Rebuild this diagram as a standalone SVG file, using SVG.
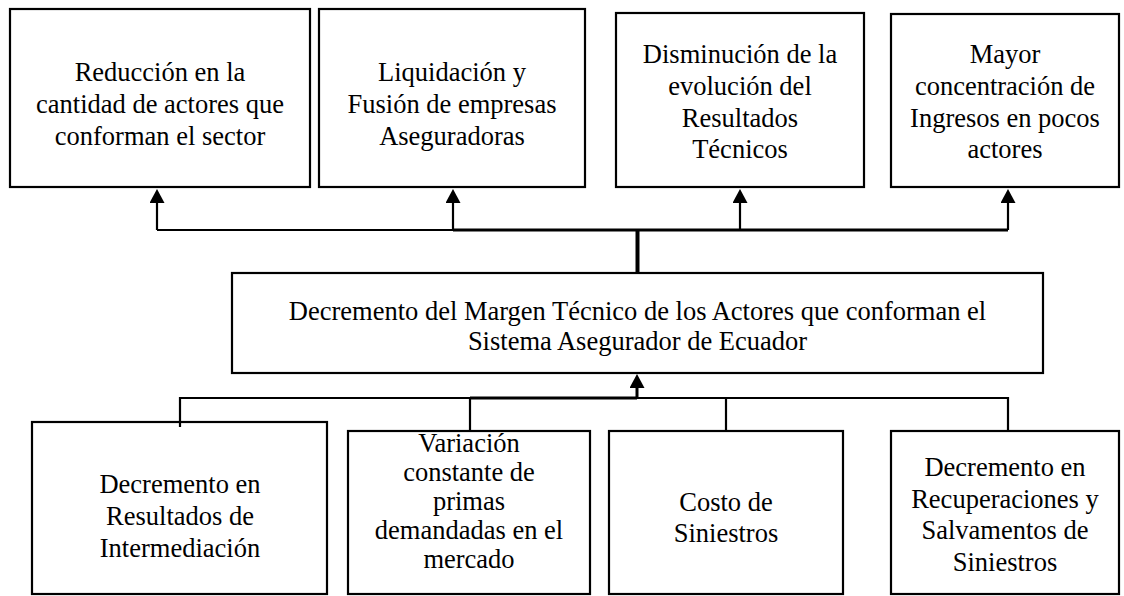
<svg xmlns="http://www.w3.org/2000/svg" width="1124" height="596" viewBox="0 0 1124 596">
<style>
.box{fill:#fff;stroke:#000;stroke-width:2.2}
.t{font-family:"Liberation Serif","Times New Roman",serif;font-size:26.5px;fill:#000;text-anchor:middle}
.c{fill:none;stroke:#000;stroke-width:2.2}
.ct{fill:none;stroke:#000;stroke-width:3}
</style>
<defs>
<marker id="ah" markerUnits="userSpaceOnUse" viewBox="0 0 14 15" markerWidth="14" markerHeight="15" refX="0" refY="7.5" orient="auto">
<path d="M0,0 L14,7.5 L0,15 Z" fill="#000"/>
</marker>
</defs>
<rect width="1124" height="596" fill="#fff"/>
<g id="n1"><rect class="box" x="10" y="9" width="300" height="178"/>
<text class="t" x="160" y="81">Reducción en la</text><text class="t" x="160" y="113">cantidad de actores que</text><text class="t" x="160" y="145">conforman el sector</text></g>
<g id="n2"><rect class="box" x="319" y="9" width="266" height="178"/>
<text class="t" x="452" y="81">Liquidación y</text><text class="t" x="452" y="113">Fusión de empresas</text><text class="t" x="452" y="145">Aseguradoras</text></g>
<g id="n3"><rect class="box" x="616" y="13" width="248" height="174"/>
<text class="t" x="740" y="63">Disminución de la</text><text class="t" x="740" y="95">evolución del</text><text class="t" x="740" y="127">Resultados</text><text class="t" x="740" y="158">Técnicos</text></g>
<g id="n4"><rect class="box" x="891" y="14" width="228" height="173"/>
<text class="t" x="1005" y="63">Mayor</text><text class="t" x="1005" y="95">concentración de</text><text class="t" x="1005" y="127">Ingresos en pocos</text><text class="t" x="1005" y="158">actores</text></g>
<g id="n5"><rect class="box" x="232" y="273" width="811" height="100"/>
<text class="t" x="637.5" y="320">Decremento del Margen Técnico de los Actores que conforman el</text><text class="t" x="637.5" y="350">Sistema Asegurador de Ecuador</text></g>
<g id="n6"><rect class="box" x="32" y="422" width="295" height="172"/>
<text class="t" x="180" y="493">Decremento en</text><text class="t" x="180" y="525">Resultados de</text><text class="t" x="180" y="557">Intermediación</text></g>
<g id="n7"><rect class="box" x="348" y="431" width="242" height="163"/>
<text class="t" x="469" y="452">Variación</text><text class="t" x="469" y="481">constante de</text><text class="t" x="469" y="510">primas</text><text class="t" x="469" y="539">demandadas en el</text><text class="t" x="469" y="568">mercado</text></g>
<g id="n8"><rect class="box" x="609" y="431" width="234" height="163"/>
<text class="t" x="726" y="511">Costo de</text><text class="t" x="726" y="542">Siniestros</text></g>
<g id="n9"><rect class="box" x="891" y="431" width="228" height="163"/>
<text class="t" x="1005" y="476">Decremento en</text><text class="t" x="1005" y="508">Recuperaciones y</text><text class="t" x="1005" y="539">Salvamentos de</text><text class="t" x="1005" y="571">Siniestros</text></g>
<g id="connectors">
<path class="c" d="M157,230 H453"/>
<path class="ct" d="M453,230 H1008"/>
<path class="c" d="M157,230 V203" marker-end="url(#ah)"/>
<path class="c" d="M453,230 V203" marker-end="url(#ah)"/>
<path class="c" d="M740,230 V203" marker-end="url(#ah)"/>
<path class="c" d="M1008,230 V203" marker-end="url(#ah)"/>
<path fill="none" stroke="#000" stroke-width="4" d="M637.5,230 V273"/>
<path class="c" d="M180,427 V398 H470"/>
<path class="ct" d="M470,398 H637"/>
<path class="c" d="M637,398 H1008 V431"/>
<path class="c" d="M470,398 V431"/>
<path class="c" d="M726,398 V431"/>
<path class="ct" d="M637,398 V388" marker-end="url(#ah)"/>
</g>
</svg>
